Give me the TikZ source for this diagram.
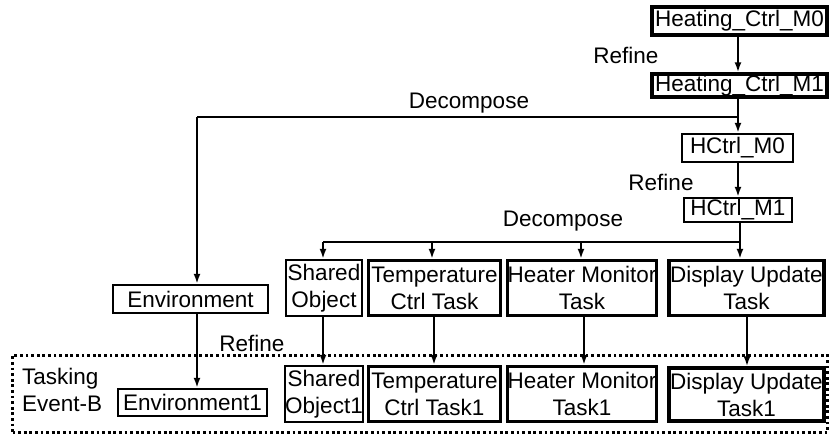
\documentclass[tikz,border=0pt]{standalone}
\usepackage{fontspec}
\setmainfont{Liberation Sans}
\usetikzlibrary{arrows.meta}
\begin{document}
\begin{tikzpicture}[x=1pt,y=-1pt,
  every node/.style={font=\fontsize{22.5}{27}\selectfont},
  boxthin/.style={draw,line width=2.4pt,inner sep=0pt,align=center},
  boxthick/.style={draw,line width=3.4pt,inner sep=0pt,align=center},
  conn/.style={line width=2.6pt},
  arr/.style={line width=2.6pt,-{Latex[length=10pt,width=7pt]}},
  lbl/.style={inner sep=0pt}
]
\useasboundingbox (0,0) rectangle (831,436);
% top chain
\node[boxthick,minimum width=175pt,minimum height=28pt] (m0) at (739.5,21) {Heating\_Ctrl\_M0};
\node[boxthick,minimum width=175pt,minimum height=23pt] (m1) at (739.5,85.5) {Heating\_Ctrl\_M1};
\node[boxthin,minimum width=111pt,minimum height=28pt] (h0) at (737.5,148) {HCtrl\_M0};
\node[boxthin,minimum width=108pt,minimum height=24pt] (h1) at (738,210) {HCtrl\_M1};
% middle row
\node[boxthin,minimum width=155pt,minimum height=28pt] (env) at (190.5,299) {Environment};
\node[boxthin,minimum width=76pt,minimum height=56pt] (so) at (324,288) {Shared\\Object};
\node[boxthick,minimum width=132pt,minimum height=55pt] (tc) at (434.5,288) {Temperature\\Ctrl Task};
\node[boxthick,minimum width=149pt,minimum height=55pt] (hm) at (582,288) {Heater Monitor\\Task};
\node[boxthick,minimum width=155pt,minimum height=55pt] (du) at (746.5,288) {Display Update\\Task};
% bottom row
\node[boxthin,minimum width=149pt,minimum height=27pt] (env1) at (192.5,402.5) {Environment1};
\node[boxthin,minimum width=76pt,minimum height=56pt] (so1) at (324,394) {Shared\\Object1};
\node[boxthick,minimum width=132pt,minimum height=55pt] (tc1) at (434.5,394) {Temperature\\Ctrl Task1};
\node[boxthick,minimum width=149pt,minimum height=55pt] (hm1) at (582,394) {Heater Monitor\\Task1};
\node[boxthick,minimum width=155pt,minimum height=53pt] (du1) at (746.5,394.5) {Display Update\\Task1};
% dotted region
\node[draw,line width=2.8pt,dash pattern=on 2.8pt off 2.8pt,inner sep=0pt,minimum width=815pt,minimum height=77pt] (region) at (420,394) {};
\node[lbl,align=left,anchor=west] (tlabel) at (22,390) {Tasking\\Event-B};
% junction coordinates
\coordinate (j1) at (738,117);
\coordinate (j2) at (197,117);
\coordinate (k1) at (740,242);
\coordinate (k2) at (323,242);
% connectors
\draw[arr] (m0.south -| j1) -- (m1.north -| j1);
\draw[arr] (m1.south -| j1) -- (h0.north -| j1);
\draw[conn] (j1) -- (j2);
\draw[arr] (j2) -- (j2 |- env.north);
\draw[arr] (h0.south -| j1) -- (h1.north -| j1);
\draw[conn] (h1.south -| k1) -- (k1) -- (k2);
\draw[arr] (k2) -- (so.north -| k2);
\draw[arr] (432,242) -- (tc.north -| 432,0);
\draw[arr] (581,242) -- (hm.north -| 581,0);
\draw[arr] (k1) -- (du.north -| k1);
\draw[arr] (env.south -| j2) -- (env1.north -| j2);
\draw[arr] (so.south -| k2) -- (so1.north -| k2);
\draw[arr] (tc.south -| 434,0) -- (tc1.north -| 434,0);
\draw[arr] (hm.south -| 584,0) -- (hm1.north -| 584,0);
\draw[arr] (du.south -| 747,0) -- (du1.north -| 747,0);
% labels
\node[lbl] (r1) at (626,55) {Refine};
\node[lbl] (d1) at (469,103) {Decompose};
\node[lbl] (r2) at (661,182) {Refine};
\node[lbl] (d2) at (563,221) {Decompose};
\node[lbl] (r3) at (252,343) {Refine};
\end{tikzpicture}
\end{document}
